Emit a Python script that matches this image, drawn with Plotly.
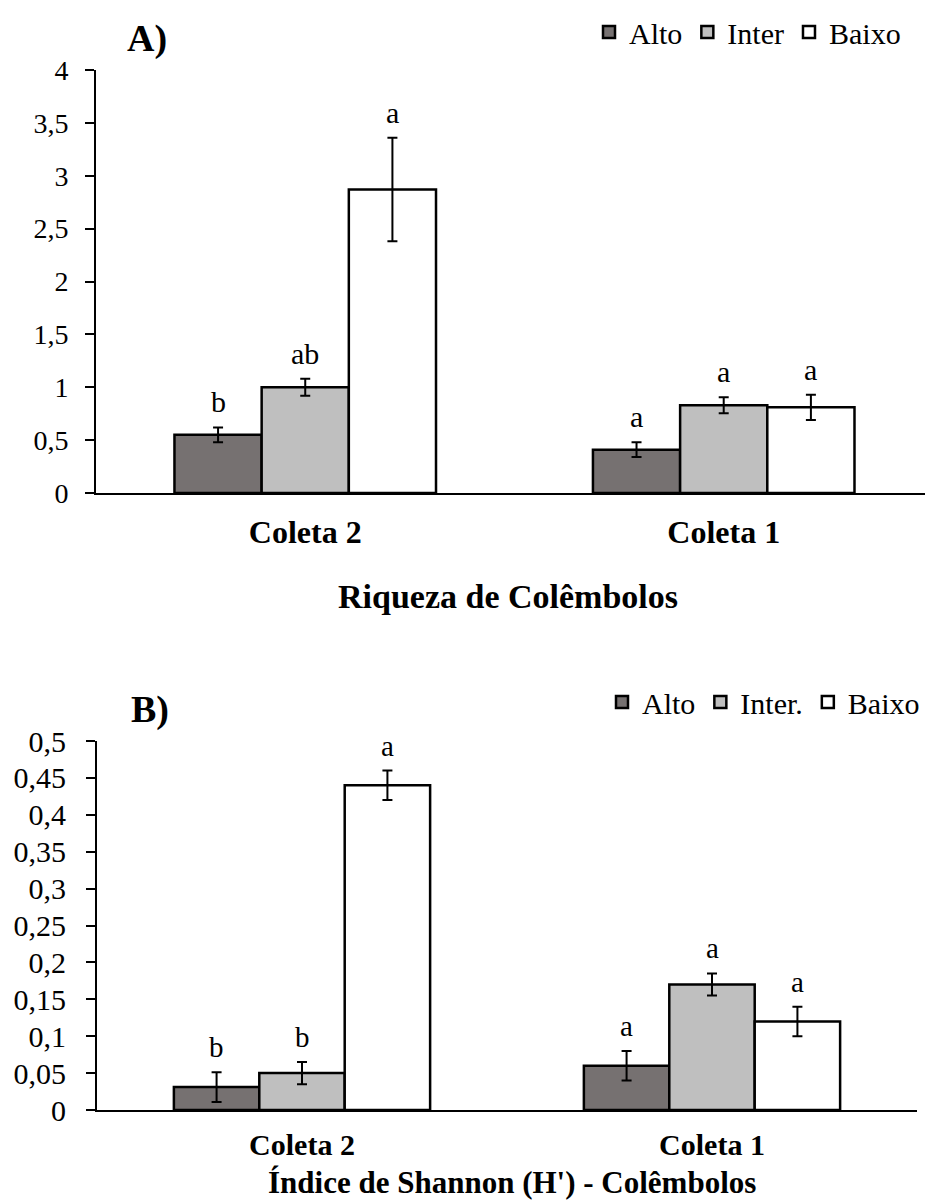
import plotly.graph_objects as go

# ---- data -------------------------------------------------------------
categories = ["Coleta 2", "Coleta 1"]
names_a = ["Alto", "Inter", "Baixo"]
names_b = ["Alto", "Inter.", "Baixo"]
colors = ["#767171", "#bfbfbf", "#ffffff"]

# Riqueza de Colêmbolos (means and standard errors)
riqueza_alto = [0.55, 0.41]
riqueza_inter = [1.00, 0.83]
riqueza_baixo = [2.87, 0.81]
riqueza_alto_err = [0.07, 0.07]
riqueza_inter_err = [0.08, 0.075]
riqueza_baixo_err = [0.49, 0.12]
riqueza_letters_alto = ["b", "a"]
riqueza_letters_inter = ["ab", "a"]
riqueza_letters_baixo = ["a", "a"]

# Índice de Shannon (H')
shannon_alto = [0.031, 0.06]
shannon_inter = [0.05, 0.17]
shannon_baixo = [0.44, 0.12]
shannon_alto_err = [0.02, 0.02]
shannon_inter_err = [0.015, 0.015]
shannon_baixo_err = [0.02, 0.02]
shannon_letters_alto = ["b", "a"]
shannon_letters_inter = ["b", "a"]
shannon_letters_baixo = ["a", "a"]

riqueza_tickvals = [0, 0.5, 1, 1.5, 2, 2.5, 3, 3.5, 4]
riqueza_ticktext = ["0", "0,5", "1", "1,5", "2", "2,5", "3", "3,5", "4"]
shannon_tickvals = [0, 0.05, 0.1, 0.15, 0.2, 0.25, 0.3, 0.35, 0.4, 0.45, 0.5]
shannon_ticktext = ["0", "0,05", "0,1", "0,15", "0,2", "0,25", "0,3",
                    "0,35", "0,4", "0,45", "0,5"]

# ---- style ------------------------------------------------------------
FONT = "Liberation Serif, Times New Roman, serif"
W, H = 925, 1201
BARGAP = 0.375
n_series = 3
bar_w = (1 - BARGAP) / n_series

fig = go.Figure()
x_pos = list(range(len(categories)))

panels = [
    ("x", "y", "legend", names_a, 30,
     [riqueza_alto, riqueza_inter, riqueza_baixo],
     [riqueza_alto_err, riqueza_inter_err, riqueza_baixo_err],
     [riqueza_letters_alto, riqueza_letters_inter, riqueza_letters_baixo]),
    ("x2", "y2", "legend2", names_b, 29,
     [shannon_alto, shannon_inter, shannon_baixo],
     [shannon_alto_err, shannon_inter_err, shannon_baixo_err],
     [shannon_letters_alto, shannon_letters_inter, shannon_letters_baixo]),
]

annotations = []
for xa, ya, leg, names, letter_size, values, errs, letters in panels:
    for j, (name, vals, err, lets) in enumerate(zip(names, values, errs, letters)):
        fig.add_trace(go.Bar(
            x=x_pos, y=vals, name=name, xaxis=xa, yaxis=ya, legend=leg,
            marker=dict(color=colors[j], line=dict(color="black", width=2.5)),
            error_y=dict(type="data", array=err, visible=True,
                         color="black", thickness=2, width=5),
        ))
        for i, (v, e, t) in enumerate(zip(vals, err, lets)):
            annotations.append(dict(
                x=x_pos[i] + (j - 1) * bar_w, y=v + e, xref=xa, yref=ya,
                text=t, showarrow=False, xanchor="center", yanchor="bottom",
                yshift=7, font=dict(family=FONT, size=letter_size, color="black"),
            ))


def paper_text(text, cx, cy, size):
    """Bold text centred on a pixel position of the page."""
    return dict(x=cx / W, y=1 - cy / H, xref="paper", yref="paper",
                xanchor="center", yanchor="middle", text=text, showarrow=False,
                font=dict(family=FONT, size=size, color="black", weight="bold"))


annotations += [
    paper_text("Riqueza de Colêmbolos", 508, 596, 34),
    paper_text("Índice de Shannon (H') - Colêmbolos", 512, 1182, 31),
    paper_text("A)", 147, 38, 38),
    paper_text("B)", 150, 710, 38),
]

xaxis_common = dict(
    tickvals=x_pos, ticktext=categories, ticks="", showline=True,
    linecolor="black", linewidth=2, showgrid=False, zeroline=False,
    fixedrange=True, automargin=False,
)
yaxis_common = dict(
    ticks="outside", ticklen=9, tickwidth=2, tickcolor="black",
    showline=True, linecolor="black", linewidth=2, showgrid=False,
    zeroline=False, automargin=False,
)

fig.update_layout(
    width=W, height=H,
    margin=dict(l=0, r=0, t=0, b=0, autoexpand=False),
    paper_bgcolor="white", plot_bgcolor="white",
    barmode="group", bargap=BARGAP, bargroupgap=0,
    showlegend=True,
    xaxis=dict(xaxis_common, domain=[96 / W, 1], range=[-0.5, 1.481], anchor="y",
               ticklabelstandoff=10,
               tickfont=dict(family=FONT, size=32, color="black", weight="bold")),
    yaxis=dict(yaxis_common, domain=[1 - 493 / H, 1 - 70 / H], range=[0, 4],
               tickvals=riqueza_tickvals, ticktext=riqueza_ticktext, anchor="x",
               ticklabelstandoff=11,
               tickfont=dict(family=FONT, size=28, color="black")),
    xaxis2=dict(xaxis_common, domain=[97 / W, 917 / W], range=[-0.5, 1.5], anchor="y2",
                ticklabelstandoff=7,
                tickfont=dict(family=FONT, size=30, color="black", weight="bold")),
    yaxis2=dict(yaxis_common, domain=[1 - 1110 / H, 1 - 741 / H], range=[0, 0.5],
                tickvals=shannon_tickvals, ticktext=shannon_ticktext, anchor="x2",
                ticklabelstandoff=14,
                tickfont=dict(family=FONT, size=30, color="black")),
    legend=dict(orientation="h", x=906 / W, xanchor="right", y=1 - 32 / H,
                yanchor="middle", font=dict(family=FONT, size=30, color="black"),
                bgcolor="rgba(0,0,0,0)", itemclick=False, traceorder="normal"),
    legend2=dict(orientation="h", x=925 / W, xanchor="right", y=1 - 702 / H,
                 yanchor="middle", font=dict(family=FONT, size=30, color="black"),
                 bgcolor="rgba(0,0,0,0)", itemclick=False, traceorder="normal"),
    annotations=annotations,
)

fig.write_html("out.html")
